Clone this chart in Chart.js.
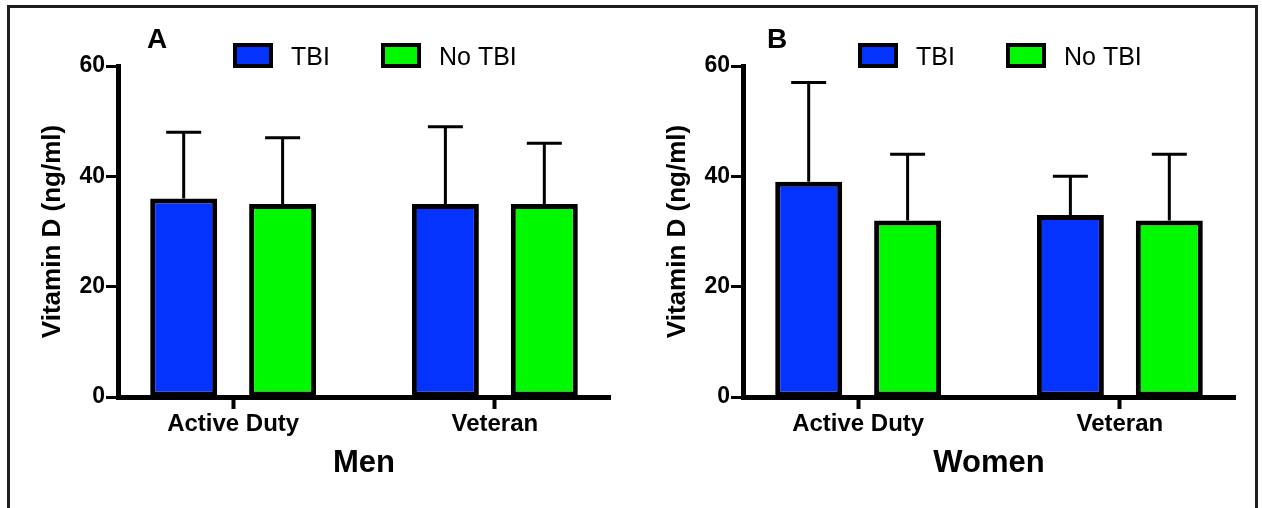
<!DOCTYPE html>
<html>
<head>
<meta charset="utf-8">
<script src="https://cdn.jsdelivr.net/npm/chart.js@4.4.1/dist/chart.umd.min.js"></script>
<style>
  body { margin: 0; background: #fff; width: 1262px; height: 508px; overflow: hidden; position: relative; }
  #frame { position: absolute; left: 7px; top: 5px; width: 1245px; height: 600px;
           border: 3px solid #1e1e1e; border-bottom: none; }
  canvas { position: absolute; top: 0; }
  #men { left: 0; }
  #women { left: 625px; }
</style>
</head>
<body>
<div id="frame"></div>
<canvas id="men" width="625" height="508"></canvas>
<canvas id="women" width="625" height="508"></canvas>
<script>
// data (mean, and upper error bar as SD)
const categories = ['Active Duty', 'Veteran'];
const seriesNames = ['TBI', 'No TBI'];
const seriesColors = ['#0433ff', '#00f900'];
const yTicks = [0, 20, 40, 60];

const menTbi = [36, 35];
const menTbiSd = [12, 14];
const menNoTbi = [35, 35];
const menNoTbiSd = [12, 11];

const womenTbi = [39, 33];
const womenTbiSd = [18, 7];
const womenNoTbi = [32, 32];
const womenNoTbiSd = [12, 12];

Chart.defaults.font.family = "'Liberation Sans', Arial, sans-serif";
Chart.defaults.color = '#000';

// space (in category units) left before the first and after the last group
const catPad = 0.44;

// draws the upward error bars from the scales
const errorBars = {
    id: 'errorBars',
    afterDatasetsDraw(chart) {
        const ctx = chart.ctx;
        const yScale = chart.scales.y;
        ctx.save();
        ctx.strokeStyle = '#000';
        ctx.lineWidth = 3;
        chart.data.datasets.forEach((ds, i) => {
            chart.getDatasetMeta(i).data.forEach((bar, j) => {
                const top = yScale.getPixelForValue(ds.data[j] + ds.sd[j]);
                ctx.beginPath();
                ctx.moveTo(bar.x, bar.y);
                ctx.lineTo(bar.x, top);
                ctx.moveTo(bar.x - 17.5, top);
                ctx.lineTo(bar.x + 17.5, top);
                ctx.stroke();
            });
        });
        ctx.restore();
    }
};

// panel letter + legend boxes
const panelDecor = {
    id: 'panelDecor',
    afterDraw(chart, args, opts) {
        const ctx = chart.ctx;
        ctx.save();
        ctx.fillStyle = '#000';
        ctx.textBaseline = 'alphabetic';
        ctx.font = "bold 28px 'Liberation Sans', Arial, sans-serif";
        ctx.fillText(opts.letter, opts.letterX, 48);

        const boxX = [233, 381];
        ctx.font = "25px 'Liberation Sans', Arial, sans-serif";
        chart.data.datasets.forEach((ds, i) => {
            ctx.fillStyle = ds.backgroundColor;
            ctx.fillRect(boxX[i], 43, 40, 25);
            ctx.strokeStyle = '#000';
            ctx.lineWidth = 4;
            ctx.strokeRect(boxX[i] + 2, 45, 36, 21);
            ctx.fillStyle = '#000';
            ctx.fillText(ds.label, boxX[i] + 58, 65);
        });
        ctx.restore();
    }
};

function makeChart(id, title, letter, letterX, tbi, tbiSd, noTbi, noTbiSd) {
    return new Chart(document.getElementById(id), {
        type: 'bar',
        data: {
            labels: categories,
            datasets: [
                {
                    label: seriesNames[0],
                    data: tbi,
                    sd: tbiSd,
                    backgroundColor: seriesColors[0],
                    borderColor: '#000',
                    borderWidth: 5,
                    borderSkipped: false
                },
                {
                    label: seriesNames[1],
                    data: noTbi,
                    sd: noTbiSd,
                    backgroundColor: seriesColors[1],
                    borderColor: '#000',
                    borderWidth: 5,
                    borderSkipped: false
                }
            ]
        },
        options: {
            responsive: false,
            animation: false,
            devicePixelRatio: 1,
            categoryPercentage: 0.756,
            barPercentage: 0.677,
            layout: { padding: { left: 0, right: 15, top: 66, bottom: 26 } },
            plugins: {
                legend: { display: false },
                tooltip: { enabled: false },
                panelDecor: { letter: letter, letterX: letterX }
            },
            scales: {
                x: {
                    afterBuildTicks: function(scale) {
                        scale._startValue = -catPad;
                        scale._valueRange = (categories.length - 1) + 2 * catPad;
                    },
                    afterFit: function(scale) { scale.height = 85; },
                    grid: {
                        offset: false,
                        drawOnChartArea: false,
                        tickLength: 12,
                        tickWidth: 4,
                        color: '#000'
                    },
                    border: { display: true, width: 5, color: '#000' },
                    ticks: {
                        padding: 1,
                        font: { size: 24, weight: 'bold' }
                    },
                    title: {
                        display: true,
                        text: title,
                        padding: { top: 0, bottom: 0 },
                        font: { size: 31, weight: 'bold' }
                    }
                },
                y: {
                    min: yTicks[0],
                    max: yTicks[yTicks.length - 1],
                    afterBuildTicks: function(scale) {
                        scale.ticks = yTicks.map(v => ({ value: v }));
                    },
                    afterFit: function(scale) { scale.width = 118; },
                    grid: {
                        drawOnChartArea: false,
                        tickLength: 12,
                        tickWidth: 3,
                        color: '#000'
                    },
                    border: { display: true, width: 5, color: '#000' },
                    ticks: {
                        padding: 1,
                        font: { size: 23, weight: 'bold' }
                    },
                    title: {
                        display: true,
                        text: 'Vitamin D (ng/ml)',
                        padding: { top: 37, bottom: 0 },
                        font: { size: 26, weight: 'bold' }
                    }
                }
            }
        },
        plugins: [errorBars, panelDecor]
    });
}

makeChart('men', 'Men', 'A', 147, menTbi, menTbiSd, menNoTbi, menNoTbiSd);
makeChart('women', 'Women', 'B', 142, womenTbi, womenTbiSd, womenNoTbi, womenNoTbiSd);
</script>
</body>
</html>
